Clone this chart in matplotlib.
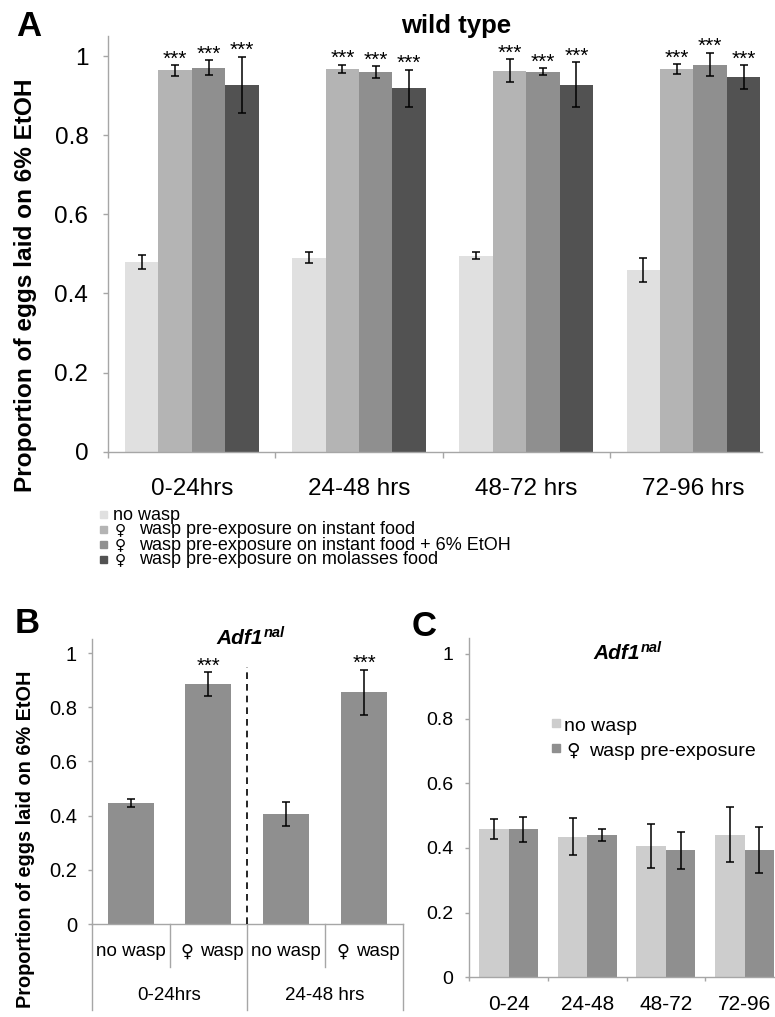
import matplotlib
matplotlib.use("Agg")
import matplotlib.pyplot as plt
from matplotlib.patches import Rectangle
from matplotlib.transforms import blended_transform_factory
import numpy as np

plt.rcParams['font.family'] = ['Liberation Sans', 'DejaVu Sans']

# ---------------- data ----------------
FEMALE = '\u2640'
groups_A = ['0-24hrs', '24-48 hrs', '48-72 hrs', '72-96 hrs']
series_A = ['no wasp',
            FEMALE + ' wasp pre-exposure on instant food',
            FEMALE + ' wasp pre-exposure on instant food + 6% EtOH',
            FEMALE + ' wasp pre-exposure on molasses food']
A_no_wasp = [0.479, 0.491, 0.495, 0.460]
A_no_wasp_err = [0.018, 0.015, 0.009, 0.031]
A_instant = [0.964, 0.968, 0.963, 0.967]
A_instant_err = [0.013, 0.010, 0.029, 0.013]
A_instant_etoh = [0.971, 0.960, 0.961, 0.979]
A_instant_etoh_err = [0.019, 0.015, 0.009, 0.030]
A_molasses = [0.928, 0.919, 0.928, 0.947]
A_molasses_err = [0.071, 0.047, 0.057, 0.030]
A_sig = ['', '***', '***', '***']

B_labels = ['no wasp', FEMALE + ' wasp', 'no wasp', FEMALE + ' wasp']
B_groups = ['0-24hrs', '24-48 hrs']
B_values = [0.448, 0.886, 0.407, 0.855]
B_err = [0.015, 0.043, 0.045, 0.083]
B_sig = ['', '***', '', '***']

C_groups = ['0-24', '24-48', '48-72', '72-96']
C_series = ['no wasp', FEMALE + ' wasp pre-exposure']
C_no_wasp = [0.459, 0.435, 0.407, 0.441]
C_no_wasp_err = [0.030, 0.058, 0.068, 0.085]
C_wasp = [0.458, 0.440, 0.393, 0.395]
C_wasp_err = [0.039, 0.018, 0.057, 0.071]

yticks = [0, 0.2, 0.4, 0.6, 0.8, 1.0]
ytick_labels = ['0', '0.2', '0.4', '0.6', '0.8', '1']

# ---------------- layout helpers ----------------
W, H = 775, 1017
fig = plt.figure(figsize=(W / 100, H / 100), dpi=100)


def rect(l, t, r, b):
    return [l / W, 1 - b / H, (r - l) / W, (b - t) / H]


def fx(x):
    return x / W


def fy(y):
    return 1 - y / H


SPINE = '#a6a6a6'
colors_A = ['#e0e0e0', '#b4b4b4', '#8f8f8f', '#525252']
color_B = '#8f8f8f'
colors_C = ['#cdcdcd', '#8f8f8f']
ekw = dict(ecolor='black', elinewidth=1.1, capsize=2.8, capthick=1.1)


def split_female(label):
    """Return (has_symbol, rest_of_text)."""
    if label.startswith(FEMALE):
        return True, label[len(FEMALE):].strip()
    return False, label


def fig_label(x_sym, x_text, y, label, size, sym_scale):
    has, rest = split_female(label)
    if has:
        fig.text(fx(x_sym), fy(y - 0.5), FEMALE, ha='left', va='center',
                 fontsize=size * sym_scale, family='DejaVu Sans')
        fig.text(fx(x_text), fy(y), rest, ha='left', va='center', fontsize=size)
    else:
        fig.text(fx(x_sym - 2), fy(y), rest, ha='left', va='center', fontsize=size)


def style_axes(ax, ylab_size, tick_len, pad):
    for s in ['top', 'right']:
        ax.spines[s].set_visible(False)
    for s in ['left', 'bottom']:
        ax.spines[s].set_color(SPINE)
        ax.spines[s].set_linewidth(1.0)
    ax.set_ylim(0, 1.05)
    ax.set_xlim(-0.5, 3.5)
    ax.set_yticks(yticks)
    ax.set_yticklabels(ytick_labels)
    ax.tick_params(axis='y', direction='out', length=tick_len, width=1.0,
                   color=SPINE, labelsize=ylab_size, pad=pad)


def stars(ax, x, top, label, size):
    if label:
        ax.annotate(label, xy=(x, top), xytext=(0, 0.5), textcoords='offset points',
                    ha='center', va='baseline', fontsize=size)


# ---------------- Panel A ----------------
axA = fig.add_axes(rect(108.3, 451.7 - 1.05 * 395.5, 777, 451.7))
style_axes(axA, 17.5, 3.6, 10.8)
xA = np.arange(len(groups_A))
wA = 0.2
dataA = [(A_no_wasp, A_no_wasp_err), (A_instant, A_instant_err),
         (A_instant_etoh, A_instant_etoh_err), (A_molasses, A_molasses_err)]
for i, (vals, errs) in enumerate(dataA):
    xs = xA + (i - 1.5) * wA
    axA.bar(xs, vals, wA, color=colors_A[i], yerr=errs, error_kw=ekw, zorder=2)
    for x, v, e in zip(xs, vals, errs):
        stars(axA, x, v + e, A_sig[i], 15)
axA.set_xticks(np.arange(-0.5, 4, 1.0))
axA.set_xticklabels([])
axA.tick_params(axis='x', direction='out', length=4.3, width=1.0, color=SPINE)
axA.spines['bottom'].set_bounds(-0.5, 3.41)
trA = blended_transform_factory(axA.transData, fig.transFigure)
for x, g in zip(xA, groups_A):
    axA.text(x, fy(489), g, transform=trA, ha='center', va='center', fontsize=17.5)
fig.text(fx(456), fy(33), 'wild type', ha='center', va='baseline',
         fontsize=18.5, fontweight='bold')
fig.text(fx(26), fy(285), 'Proportion of eggs laid on 6% EtOH', rotation=90,
         ha='center', va='center', fontsize=17.6, fontweight='bold')
fig.text(fx(16), fy(36), 'A', ha='left', va='baseline', fontsize=25, fontweight='bold')

# Legend A (manual)
for i, lab in enumerate(series_A):
    yc = 515 + 15 * i
    fig.patches.append(Rectangle((fx(100), fy(yc + 2.5)), 7 / W, 7 / H,
                                 transform=fig.transFigure, color=colors_A[i]))
    fig_label(115, 139, yc, lab, 13, 0.85)

# ---------------- Panel B ----------------
axB = fig.add_axes(rect(91.7, 924 - 1.05 * 271, 403, 924))
style_axes(axB, 14.5, 3, 7.5)
xB = np.arange(len(B_values))
axB.bar(xB, B_values, 0.59, color=color_B, yerr=B_err, error_kw=ekw, zorder=2)
for x, v, e, s in zip(xB, B_values, B_err, B_sig):
    stars(axB, x, v + e, s, 14.5)
axB.set_xticks([])
axB.spines['bottom'].set_bounds(-0.5, 3.5)
axB.plot([1.5, 1.5], [0, 0.95], color='black', lw=1.2, ls=(0, (4, 3)), zorder=3)
trB = blended_transform_factory(axB.transData, axB.transAxes)
hB = 1.05 * 271
for x in [0.5, 2.5]:
    axB.plot([x, x], [0, -(966.7 - 924) / hB], transform=trB, color=SPINE,
             lw=1.0, clip_on=False)
for x in [-0.5, 1.5, 3.5]:
    axB.plot([x, x], [0, -(1010 - 924) / hB], transform=trB, color=SPINE,
             lw=1.0, clip_on=False)
for x, lab in zip(xB, B_labels):
    has, rest = split_female(lab)
    yB = -(951.7 - 924) / hB
    if has:
        axB.annotate(FEMALE, xy=(x, yB), xycoords=trB, xytext=(-21, 0),
                     textcoords='offset pixels', ha='center', va='center',
                     fontsize=13.5 * 0.95, family='DejaVu Sans')
        axB.annotate(rest, xy=(x, yB), xycoords=trB, xytext=(-8, 0),
                     textcoords='offset pixels', ha='left', va='center',
                     fontsize=13.5)
    else:
        axB.text(x, yB, rest, transform=trB, ha='center', va='center',
                 fontsize=13.5)
for x, g in zip([0.5, 2.5], B_groups):
    axB.text(x, -(995 - 924) / hB, g, transform=trB, ha='center',
             va='center', fontsize=13.5)
fig.text(fx(263), fy(644), 'Adf1', ha='right', va='baseline', fontsize=15,
         fontweight='bold', fontstyle='italic')
fig.text(fx(263.5), fy(637), 'nal', ha='left', va='baseline', fontsize=10.5,
         fontweight='bold', fontstyle='italic')
fig.text(fx(26), fy(839), 'Proportion of eggs laid on 6% EtOH', rotation=90,
         ha='center', va='center', fontsize=14.3, fontweight='bold')
fig.text(fx(15), fy(633), 'B', ha='left', va='baseline', fontsize=25, fontweight='bold')

# ---------------- Panel C ----------------
axC = fig.add_axes(rect(469.3, 977.3 - 1.05 * 323.3, 784, 977.3))
style_axes(axC, 14, 3, 8.6)
xC = np.arange(len(C_groups))
wC = 0.375
axC.bar(xC - wC / 2, C_no_wasp, wC, color=colors_C[0], yerr=C_no_wasp_err,
        error_kw=ekw, zorder=2)
axC.bar(xC + wC / 2, C_wasp, wC, color=colors_C[1], yerr=C_wasp_err,
        error_kw=ekw, zorder=2)
axC.set_xticks(np.arange(-0.5, 4, 1.0))
axC.set_xticklabels([])
axC.tick_params(axis='x', direction='out', length=3, width=1.0, color=SPINE)
trC = blended_transform_factory(axC.transData, fig.transFigure)
for x, g in zip(xC, C_groups):
    axC.text(x, fy(1004), g, transform=trC, ha='center', va='center', fontsize=15)
fig.text(fx(640), fy(659), 'Adf1', ha='right', va='baseline', fontsize=15,
         fontweight='bold', fontstyle='italic')
fig.text(fx(640.5), fy(652), 'nal', ha='left', va='baseline', fontsize=10.5,
         fontweight='bold', fontstyle='italic')
fig.text(fx(412), fy(636), 'C', ha='left', va='baseline', fontsize=25, fontweight='bold')
for i, lab in enumerate(C_series):
    yc = [726.7, 751.7][i]
    fig.patches.append(Rectangle((fx(551.7), fy(yc + 0.5)), 8.5 / W, 8.5 / H,
                                 transform=fig.transFigure, color=colors_C[i]))
    fig_label(566, 589, yc, lab, 14, 0.95)

fig.savefig('out.png', dpi=100)
